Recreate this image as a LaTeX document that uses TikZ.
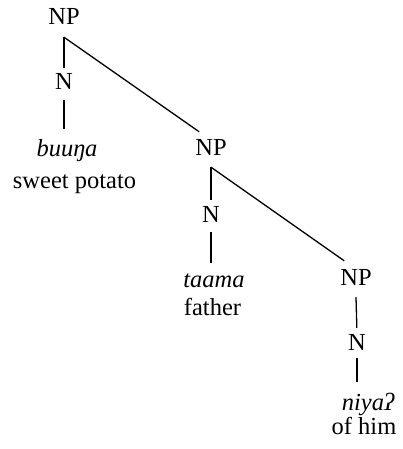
\documentclass[tikz,border=0pt]{standalone}
\usepackage{fontspec}
\setmainfont{Liberation Serif}
\begin{document}
\begin{tikzpicture}[x=1pt,y=-1pt,
  lab/.style={inner sep=0pt,anchor=base,font=\fontsize{24.5}{28}\selectfont},
  wrd/.style={lab,font=\fontsize{24.5}{28}\selectfont\itshape},
  br/.style={line width=1.3pt}]
\useasboundingbox (0,0) rectangle (402,449);
% column 1
\node[lab] (np1) at (64,25) {NP};
\node[lab] (n1) at (64,90) {N};
\node[wrd] (w1) at (67,157) {buuŋa};
\node[lab] (g1) at (74.5,188) {sweet potato};
% column 2
\node[lab] (np2) at (211,156) {NP};
\node[lab] (n2) at (211,222) {N};
\node[wrd] (w2) at (214,287) {taama};
\node[lab] (g2) at (212.5,315) {father};
% column 3
\node[lab] (np3) at (356,285) {NP};
\node[lab] (n3) at (357,350) {N};
\node[wrd] (w3) at (368,410) {niyaʔ};
\node[lab] (g3) at (364,434) {of him};
% branch points
\coordinate (b1) at ([yshift=-12pt]np1.south);
\coordinate (b2) at ([yshift=-11pt]np2.south);
\coordinate (b3) at ([yshift=-12pt]np3.south);
\coordinate (e2) at ([xshift=4pt,yshift=8pt]np2.north west);
\coordinate (e3) at ([xshift=4pt,yshift=8pt]np3.north west);
% branches
\draw[br,shorten >=6pt] (b1) -- (n1.north);
\draw[br,shorten <=10pt,shorten >=11pt] (n1.south) -- (n1.south |- w1.north);
\draw[br] (b1) -- (e2);
\draw[br,shorten >=6pt] (b2) -- (n2.north);
\draw[br,shorten <=10pt,shorten >=10pt] (n2.south) -- (n2.south |- w2.north);
\draw[br] (b2) -- (e3);
\draw[br,shorten >=6pt] (b3) -- (n3.north);
\draw[br,shorten <=8pt,shorten >=10pt] (n3.south) -- (n3.south |- w3.north);
\end{tikzpicture}
\end{document}
